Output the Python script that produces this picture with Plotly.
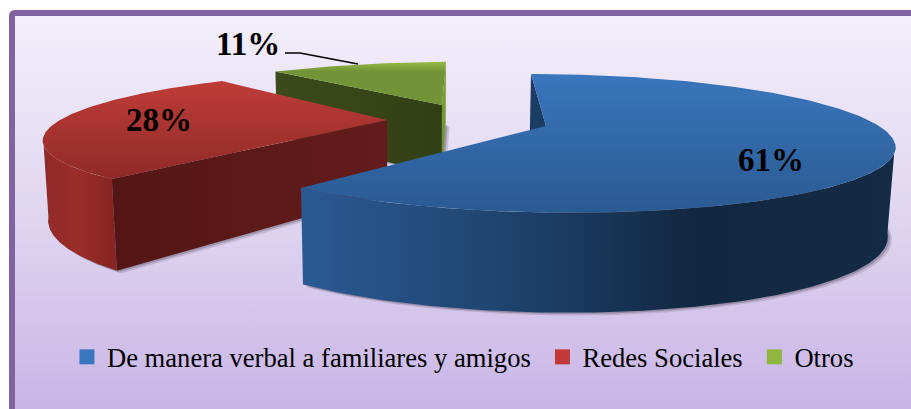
import numpy as np
import plotly.graph_objects as go

categories = ["De manera verbal a familiares y amigos", "Redes Sociales", "Otros"]
values = [61, 28, 11]

swatch_colors = ["#3a76bd", "#c23a37", "#8fb63f"]

# exploded-slice projection parameters, screen pixels
camera = [
    dict(cx=546, cy=126, a=333, b=65, k=.25, s=-18.75, t=0, h0=86, k2=.14),
    dict(cx=387, cy=120, a=328.7, b=61, k=.25, s=16.4, t=1, h0=74, k2=.25),
    dict(cx=442, cy=105, a=317.7, b=54, k=.25, s=5, t=2.6, h0=70, k2=.13),
]
styles = [
    dict(top=["#3a76bd", "#2a5a92"], wall=["#2a5a92", "#1f4470", "#122740", "#142b45"],
         radial=["#1c3d63", "#1c3d63"], radial2=None),
    dict(top=["#bf3c38", "#8f2a28"], wall=["#8f2a28", "#9a2d2a", "#862624"],
         radial=["#531614", "#631c1b"], radial2=None),
    dict(top=["#94ba43", "#739337"], wall=["#7a9c3a", "#7a9c3a"],
         radial=["#3c4b1b", "#323f15"], radial2=["#7fa23a", "#6e8d33"]),
]
label_pos = [(771, 160), (159, 120), (248, 44)]
leader_x, leader_y = [285, 300, 358], [53, 53, 64]
X0, DX = 418, .016


def scale(colors):
    return [[i / (len(colors) - 1), c] for i, c in enumerate(colors)]


def project(c, th):
    u, v = np.sin(th), np.cos(th)
    w = 1 + c["k"] * v
    x = c["cx"] + (c["a"] * u + c["s"] * v) / w
    y = c["cy"] - (c["b"] * v + c["t"] * u) / w
    h = c["h0"] / (1 + c["k2"] * v)
    return x, y, x - DX * (x - X0) * h / 90, y + h


def poly(xs, ys, colors, kind, lo, hi):
    fig.add_trace(go.Scatter(
        x=list(xs), y=list(ys), mode="lines", line=dict(width=0), fill="toself",
        fillgradient=dict(type=kind, colorscale=scale(colors), start=float(lo), stop=float(hi)),
        hoverinfo="skip", showlegend=False))


fig = go.Figure()

# plot-area background
poly([12, 911, 911, 12, 12], [13, 13, 409, 409, 13],
     ["#f3eefb", "#e0d6f0", "#c8b6e6"], "vertical", 16, 409)

ends = np.cumsum(values) / sum(values) * 2 * np.pi
starts = np.r_[0, ends[:-1]]
for i in [2, 1, 0]:
    c, st = camera[i], styles[i]
    th = np.linspace(starts[i], ends[i], 240)
    tx, ty, bx, by = project(c, th)
    apex_bx = c["cx"] - DX * (c["cx"] - X0) * c["h0"] / 90
    apex_by = c["cy"] + c["h0"]

    # soft ground shadow
    for off, alpha in ((4, .18), (2, .3)):
        sx = np.r_[apex_bx, bx, apex_bx] + off
        sy = np.r_[apex_by, by, apex_by] + off * .7
        fig.add_trace(go.Scatter(x=sx, y=sy, mode="lines", line=dict(width=0), fill="toself",
                                 fillcolor=f"rgba(70,60,80,{alpha})", hoverinfo="skip", showlegend=False))

    # outer wall: only the part of the rim that faces the viewer
    front = np.cos(th) < -c["k"]
    if front.any():
        fx, fy, gx, gy = tx[front], ty[front], bx[front], by[front]
        poly(np.r_[fx, gx[::-1], fx[0]], np.r_[fy, gy[::-1], fy[0]], st["wall"], "horizontal",
             fx.min(), fx.max())

    # radial wall on the slice's closing edge
    if st["radial2"]:
        poly([tx[-1], c["cx"], apex_bx, bx[-1], tx[-1]], [ty[-1], c["cy"], apex_by, by[-1], ty[-1]],
             st["radial2"], "vertical", ty[-1], apex_by)

    # radial wall on the cut edge
    poly([tx[0], c["cx"], apex_bx, bx[0], tx[0]], [ty[0], c["cy"], apex_by, by[0], ty[0]],
         st["radial"], "horizontal", min(tx[0], c["cx"]), max(tx[0], c["cx"]))

    # top face
    poly(np.r_[c["cx"], tx, c["cx"]], np.r_[c["cy"], ty, c["cy"]], st["top"], "vertical",
         ty.min(), ty.max())

# leader line of the smallest slice
fig.add_trace(go.Scatter(x=leader_x, y=leader_y, mode="lines", line=dict(color="#000000", width=1.6),
                         hoverinfo="skip", showlegend=False))

# legend entries
for name, col in zip(categories, swatch_colors):
    fig.add_trace(go.Scatter(x=[None], y=[None], mode="markers", name=name + "\u00a0",
                             marker=dict(symbol="square", size=15, color=col)))

for v, (x, y) in zip(values, label_pos):
    fig.add_annotation(x=x, y=y, text=f"<b>{v}%</b>", showarrow=False,
                       font=dict(family="Liberation Serif", size=33, color="#000000"))

fig.update_layout(
    width=911, height=409, margin=dict(l=0, r=0, t=0, b=0),
    paper_bgcolor="#ffffff", plot_bgcolor="rgba(0,0,0,0)",
    xaxis=dict(range=[0, 911], visible=False, fixedrange=True),
    yaxis=dict(range=[409, 0], visible=False, fixedrange=True),
    showlegend=True,
    legend=dict(orientation="h", x=.0735, y=.127, xanchor="left", yanchor="middle",
                bgcolor="rgba(0,0,0,0)", itemclick=False, itemdoubleclick=False,
                font=dict(family="Liberation Serif", size=26.6, color="#000000")),
    shapes=[dict(type="path", xref="x", yref="y", layer="above",
                 path="M 12 440 L 12 16 Q 12 13 15 13 L 940 13",
                 line=dict(color="#8064a2", width=6))],
)

fig.write_html("out.html", config=dict(displayModeBar=False),
               post_script="document.body.style.margin='0';document.body.style.overflow='hidden';")
